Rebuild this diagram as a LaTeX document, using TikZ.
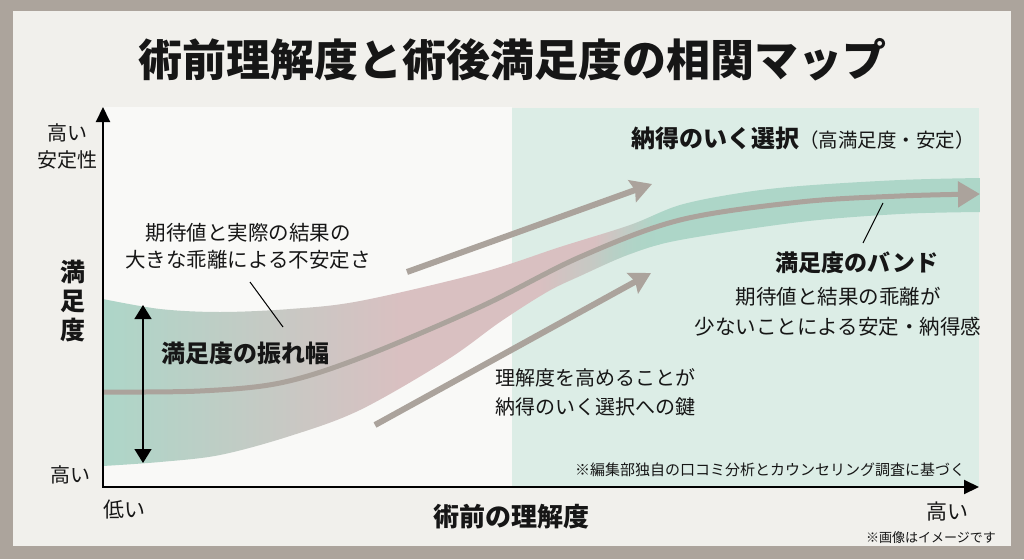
\documentclass[tikz,border=0pt]{standalone}
\usepackage{fontspec}
\setmainfont{Noto Sans CJK JP}
\usetikzlibrary{arrows.meta, fadings}
\definecolor{framegrey}{HTML}{ACA49C}
\definecolor{panelbg}{HTML}{F1F0EC}
\definecolor{plotwhite}{HTML}{F9F9F7}
\definecolor{plotgreen}{HTML}{DCEDE6}
\definecolor{bandgreen}{HTML}{ADD6C8}
\definecolor{bandpink}{HTML}{D9C0C1}
\definecolor{trendgrey}{HTML}{ABA39C}
\definecolor{inktext}{HTML}{161616}
\pgfdeclarehorizontalshading{bandshade}{100bp}{color(0bp)=(bandgreen); color(25bp)=(bandgreen); color(42bp)=(bandpink); color(53bp)=(bandpink); color(56.5bp)=(bandgreen); color(100bp)=(bandgreen)}
\tikzfading[name=stripfade, left color=transparent!100, middle color=transparent!0, right color=transparent!0]
\newcommand{\setpx}[2]{\fontsize{#1}{#2}\selectfont}
\tikzset{
  axisline/.style={{Triangle[length=15pt,width=14pt]}-{Triangle[length=15pt,width=14pt]}, line width=2pt, color=black},
  trend/.style={-{Stealth[length=21pt,width=23pt,inset=3pt]}, line width=6pt, color=trendgrey},
  midline/.style={-{Triangle[length=22pt,width=25pt]}, line width=5pt, color=trendgrey},
  leader/.style={line width=1pt, color=black},
  spanarrow/.style={{Triangle[length=14pt,width=17pt]}-{Triangle[length=14pt,width=17pt]}, line width=1.3pt, color=black},
  every node/.append style={inner sep=0pt, text=inktext}
}

\begin{document}
\begin{tikzpicture}[x=1pt, y=-1pt]
\useasboundingbox (0,0) rectangle (1024,559);
\fill[framegrey] (0,0) rectangle (1024,559);
\fill[panelbg] (13,11) rectangle (1011,546);
\fill[plotwhite] (103,107) rectangle (512,487);
\fill[plotgreen] (512,108) rectangle (979,487);
\begin{scope}
  \clip plot[smooth, tension=0.55] coordinates {(103,299) (160,309) (220,312) (290,309) (360,301) (480,273) (560,247) (630,225) (680,205) (740,193) (800,186) (900,180) (980,178)}
    -- plot[smooth, tension=0.55] coordinates {(980,212) (900,214) (800,222) (680,240) (630,254) (580,276) (547,292) (500,322) (447,360) (360,410) (290,436) (220,455) (160,462) (103,466)} -- cycle;
  \shade[shading=bandshade] (103,160) rectangle (980,480);
  \fill[bandgreen, path fading=stripfade] (540,276) -- (580,258) -- (620,241) -- (660,228) -- (660,330) -- (540,330) -- cycle;
\end{scope}
\draw[midline] plot[smooth, tension=0.55] coordinates {(103,392) (200,391) (280,383) (360,358) (480,307) (580,257) (680,220) (800,202) (900,196) (980,194)};
\coordinate (upstart) at (407,272);
\coordinate (upend) at (652,184);
\coordinate (keystart) at (375,425);
\coordinate (keyend) at (651,273);
\draw[trend] (upstart) -- (upend);
\draw[trend] (keystart) -- (keyend);
\coordinate (swingtop) at (143,305);
\coordinate (swingbot) at (143,463);
\draw[spanarrow] (swingbot) -- (swingtop);
\coordinate (origin) at (103,487);
\coordinate (ytip) at (103,107);
\coordinate (xtip) at (979,487);
\draw[axisline] (ytip) -- (origin) -- (xtip);

\node[font=\bfseries\setpx{44}{50}] (title) at (512,60) {術前理解度と術後満足度の相関マップ};
\node[font=\setpx{20}{27}, align=center] (ystable) at (67,146.5) {高い\\安定性};
\node[font=\bfseries\setpx{25}{29}, align=center] (ylabel) at (73,301) {満\\足\\度};
\node[font=\setpx{20}{24}] (ylow) at (70,475) {高い};
\node[font=\setpx{21}{24}] (xlow) at (124,510) {低い};
\node[font=\bfseries\setpx{26}{30}] (xlabel) at (511,517) {術前の理解度};
\node[font=\setpx{21}{24}] (xhigh) at (947,512) {高い};
\node[font=\setpx{13}{16}] (imgnote) at (931,538) {※画像はイメージです};
\node[font=\setpx{15}{18}] (srcnote) at (770,470) {※編集部独自の口コミ分析とカウンセリング調査に基づく};
\node[font=\setpx{20.5}{27}, align=center] (unstable) at (248,246.5) {期待値と実際の結果の\\大きな乖離による不安定さ};
\node[font=\bfseries\setpx{24}{28}] (swing) at (245,353) {満足度の振れ幅};
\node[anchor=east] (choice) at (975,138) {{\bfseries\setpx{24}{28}納得のいく選択}{\setpx{19.5}{24}（高満足度・安定）}};
\node[font=\bfseries\setpx{23}{28}] (bandname) at (857,263) {満足度のバンド};
\node[font=\setpx{20.5}{30}, align=center] (bandnote) at (838,312) {期待値と結果の乖離が\\少ないことによる安定・納得感};
\node[font=\setpx{20}{29}, align=left, anchor=west] (keynote) at (495,392.5) {理解度を高めることが\\納得のいく選択への鍵};

\coordinate (unstabletip) at (250,282);
\coordinate (unstableband) at (283,327);
\draw[leader] (unstabletip) -- (unstableband);
\coordinate (bandtip) at (883,203);
\coordinate (bandlabel) at (863,243);
\draw[leader] (bandtip) -- (bandlabel);
\end{tikzpicture}
\end{document}
